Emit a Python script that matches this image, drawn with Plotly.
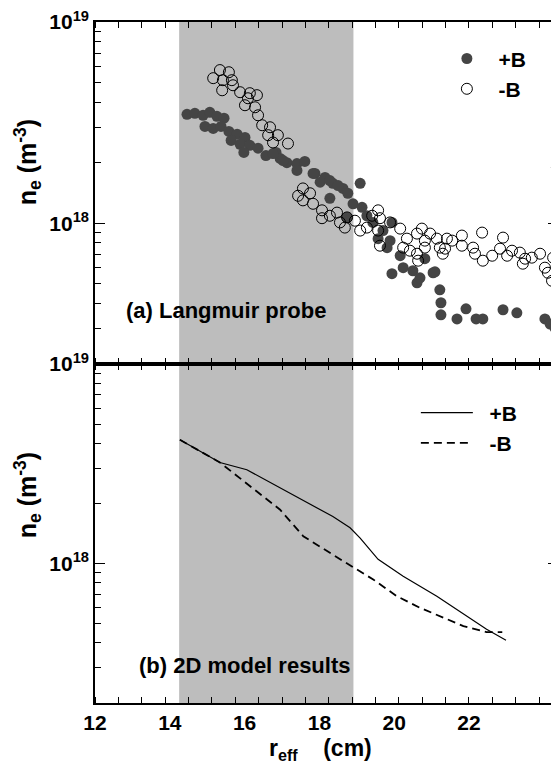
import plotly.graph_objects as go

# (a) Langmuir probe, r_eff in cm, n_e in units of 1e18 m^-3
r_plus = [14.46, 14.67, 14.89, 15.07, 15.26, 15.45, 14.94, 15.16, 15.37, 15.58, 15.80, 16.01,
          15.64, 15.88, 16.14, 16.36, 15.98, 16.57, 16.84, 16.95, 17.13, 16.76, 17.03, 17.40,
          17.61, 17.40, 17.88, 18.15, 17.83, 18.36, 18.63, 18.76, 19.09, 18.02, 18.28, 18.50,
          18.28, 18.90, 19.14, 19.27, 18.74, 19.43, 19.94, 19.70, 19.57, 19.89, 19.81, 20.16,
          20.82, 20.24, 20.50, 19.94, 21.04, 20.61, 20.69, 21.09, 21.22, 21.25, 21.25, 21.68,
          21.92, 22.19, 22.37, 22.91, 23.28, 24.03, 24.17, 24.30]
ne_plus = [3.48, 3.52, 3.44, 3.56, 3.40, 3.33, 3.03, 2.96, 3.03, 2.86, 2.77, 2.67,
           2.58, 2.47, 2.44, 2.36, 2.25, 2.17, 2.25, 2.10, 2.00, 2.22, 2.05, 1.98,
           2.03, 1.83, 1.77, 1.69, 1.77, 1.58, 1.49, 1.41, 1.58, 1.60, 1.63, 1.54,
           1.33, 1.25, 1.20, 1.09, 1.07, 1.01, 1.01, 0.920, 0.839, 0.820, 0.757, 0.690,
           0.667, 0.602, 0.581, 0.562, 0.568, 0.506, 0.536, 0.574, 0.467, 0.403, 0.351, 0.335,
           0.376, 0.335, 0.335, 0.372, 0.359, 0.335, 0.316, 0.302]

r_minus = [15.34, 15.58, 15.16, 15.42, 15.66, 15.69, 15.40, 15.88, 16.14, 16.09, 16.33, 16.01,
           16.28, 16.36, 16.47, 16.68, 16.63, 16.89, 16.76, 17.16, 17.56, 17.75, 17.56, 17.43,
           17.83, 18.07, 18.28, 18.07, 18.47, 18.55, 18.74, 18.68, 18.95, 19.09, 19.27, 19.57,
           19.62, 19.62, 19.41, 19.57, 19.89, 20.16, 20.34, 20.42, 20.61, 20.64, 20.24, 20.61,
           20.74, 20.96, 20.82, 20.82, 21.14, 21.22, 21.30, 21.41, 21.55, 21.36, 21.81, 21.81,
           22.11, 22.35, 22.16, 22.37, 22.62, 22.91, 22.83, 23.02, 23.15, 23.36, 23.50, 23.44,
           23.68, 23.90, 24.03, 24.11, 24.22, 24.25, 24.35]
ne_minus = [5.77, 5.63, 5.26, 5.14, 5.14, 4.85, 4.58, 4.48, 4.43, 4.18, 4.33, 3.86,
            3.77, 3.44, 3.07, 3.00, 2.74, 2.74, 2.52, 2.49, 1.49, 1.41, 1.30, 1.37,
            1.25, 1.16, 1.09, 1.06, 1.13, 1.01, 1.07, 0.952, 1.03, 0.920, 0.952, 1.16,
            1.06, 0.774, 1.09, 0.920, 1.01, 0.941, 0.839, 0.731, 0.706, 0.652, 0.757, 0.889,
            0.941, 0.889, 0.820, 0.757, 0.839, 0.757, 0.706, 0.839, 0.820, 0.748, 0.869, 0.774,
            0.757, 0.899, 0.706, 0.652, 0.690, 0.849, 0.748, 0.690, 0.731, 0.715, 0.667, 0.630,
            0.675, 0.706, 0.602, 0.568, 0.518, 0.675, 1.89]

# (b) 2D model results
r_model_plus = [14.27, 15.34, 16.06, 16.95, 17.35, 18.36, 18.82, 19.09, 19.57, 20.24, 21.14,
                21.94, 22.47, 22.99]
ne_model_plus = [4.17, 3.21, 2.95, 2.40, 2.17, 1.72, 1.51, 1.34, 1.05, 0.864, 0.686,
                 0.545, 0.468, 0.413]
r_model_minus = [14.27, 15.34, 16.95, 17.57, 18.86, 19.44, 20.07, 20.69, 21.85, 22.47, 22.89]
ne_model_minus = [4.17, 3.21, 1.86, 1.37, 0.969, 0.832, 0.686, 0.600, 0.486, 0.453, 0.453]

shade_r = [14.25, 18.91]
x_labels = [12, 14, 16, 18, 20, 22]
x_minor = [12.0, 12.625, 13.25, 13.875, 14.5, 15.125, 15.75, 16.375, 17.0, 17.625,
           18.25, 18.875, 19.5, 20.125, 20.75, 21.375, 22.0, 22.625, 23.25, 23.875]
y_major = [1e18, 1e19]
y_labels = ['10<sup>18</sup>', '10<sup>19</sup>']
y_minor = [2e17, 3e17, 4e17, 5e17, 6e17, 7e17, 8e17, 9e17,
           2e18, 3e18, 4e18, 5e18, 6e18, 7e18, 8e18, 9e18]

FONT = 'Liberation Sans Narrow, Arial Narrow, Liberation Sans, Arial'
scale = 1e18
pad = '\u00a0\u00a0'

fig = go.Figure()

fig.add_trace(go.Scatter(x=r_plus, y=[v * scale for v in ne_plus], mode='markers', name=pad + '+B',
                         marker=dict(size=11, color='#454545', line=dict(width=0)),
                         xaxis='x2', yaxis='y2', legend='legend2'))
fig.add_trace(go.Scatter(x=r_minus, y=[v * scale for v in ne_minus], mode='markers', name=pad + '-B',
                         marker=dict(size=11, color='rgba(0,0,0,0)', line=dict(width=1, color='black')),
                         xaxis='x2', yaxis='y2', legend='legend2'))
fig.add_trace(go.Scatter(x=r_model_plus, y=[v * scale for v in ne_model_plus], mode='lines',
                         name=pad + '+B', line=dict(color='black', width=1.2), legend='legend'))
fig.add_trace(go.Scatter(x=r_model_minus, y=[v * scale for v in ne_model_minus], mode='lines',
                         name=pad + '-B', line=dict(color='black', width=1.8, dash='8px,5px'),
                         legend='legend'))

fig.add_shape(type='rect', xref='x', yref='paper', x0=shade_r[0], x1=shade_r[1], y0=0, y1=1,
              fillcolor='#bdbdbd', line=dict(width=0), layer='below')

xcommon = dict(range=[12, 24.38], showline=True, linecolor='black', linewidth=1.5, mirror='ticks',
               tickmode='array', tickvals=x_labels, ticks='', showgrid=False, zeroline=False,
               automargin=False, ticklabeloverflow='allow',
               minor=dict(tickmode='array', tickvals=x_minor, ticks='inside', ticklen=6,
                          tickcolor='black', tickwidth=1.2),
               tickfont=dict(family=FONT, size=21, color='black', weight='bold'))
ycommon = dict(type='log', range=[17.301, 19], showline=True, linecolor='black', linewidth=1.5,
               mirror='ticks', tickmode='array', tickvals=y_major, ticktext=y_labels,
               ticks='inside', ticklen=10, tickcolor='black', tickwidth=1.2,
               showgrid=False, zeroline=False, automargin=False, ticklabeloverflow='allow',
               minor=dict(tickmode='array', tickvals=y_minor, ticks='inside', ticklen=6,
                          tickcolor='black', tickwidth=1),
               tickfont=dict(family=FONT, size=21, color='black', weight='bold'))

# the page body has an 8px margin, so the figure is drawn 8px in from the top-left corner
split = 0.4978
fig.update_layout(
    template='none',
    width=551, height=761,
    margin=dict(l=87, r=1, t=14, b=66),
    paper_bgcolor='white', plot_bgcolor='white',
    font=dict(family=FONT, color='black', weight='bold'),
    xaxis=dict(xcommon, anchor='y'),
    yaxis=dict(ycommon, domain=[0, split], anchor='x'),
    xaxis2=dict(xcommon, anchor='y2', matches='x', showticklabels=False),
    yaxis2=dict(ycommon, domain=[split, 1], anchor='x2'),
    legend=dict(x=0.693, y=0.456, xanchor='left', yanchor='top', bgcolor='rgba(0,0,0,0)',
                font=dict(family=FONT, size=21, color='black', weight='bold'), itemwidth=52),
    legend2=dict(x=0.76, y=0.976, xanchor='left', yanchor='top', bgcolor='rgba(0,0,0,0)',
                 font=dict(family=FONT, size=21, color='black', weight='bold')),
)

annot = dict(showarrow=False, font=dict(family=FONT, size=21, color='black', weight='bold'))
fig.add_annotation(annot, text='(a) Langmuir probe', xref='paper', yref='paper',
                   x=0.0626, y=0.577, xanchor='left', yanchor='middle', font_size=22)
fig.add_annotation(annot, text='(b) 2D model results', xref='paper', yref='paper',
                   x=0.0907, y=0.0558, xanchor='left', yanchor='middle', font_size=22)
fig.add_annotation(annot, text='n<sub>e</sub> (m<sup>-3</sup>)', xref='paper', yref='paper',
                   x=-0.1447, y=0.794, textangle=-90, xanchor='center', yanchor='middle',
                   font_size=25)
fig.add_annotation(annot, text='n<sub>e</sub> (m<sup>-3</sup>)', xref='paper', yref='paper',
                   x=-0.1447, y=0.305, textangle=-90, xanchor='center', yanchor='middle',
                   font_size=25)
fig.add_annotation(annot, text='r<sub>eff</sub>    (cm)', xref='paper', yref='paper',
                   x=0.486, y=-0.068, xanchor='center', yanchor='middle', font_size=23)

fig.write_html("out.html")
